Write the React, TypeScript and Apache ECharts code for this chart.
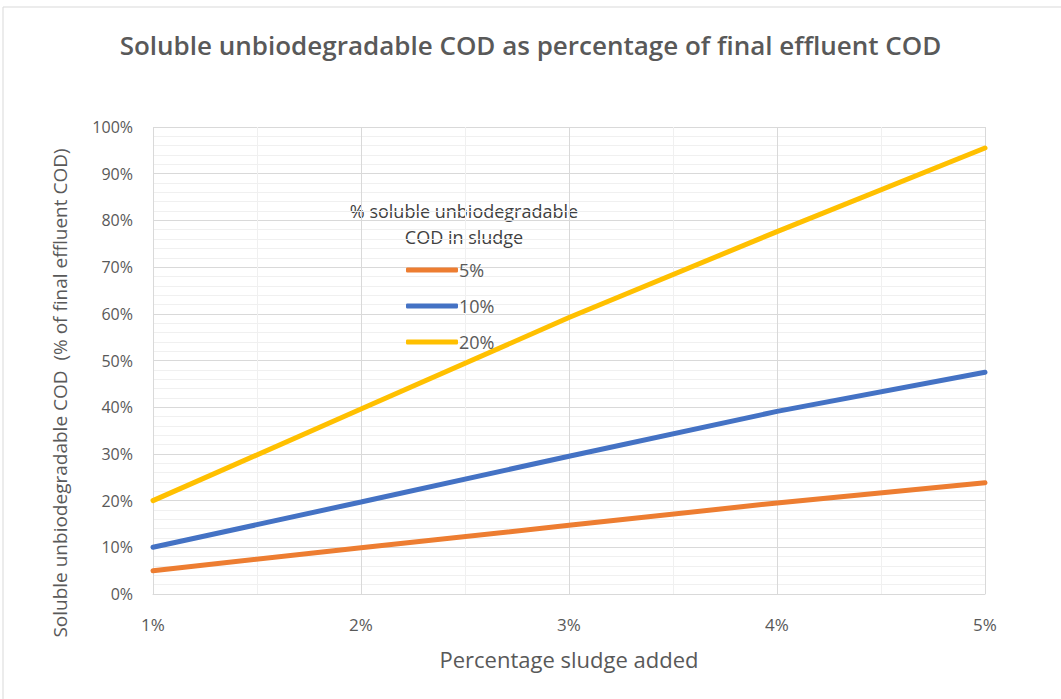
import React, { useEffect, useRef } from "react";
import * as echarts from "echarts";

const sludgeAdded = [1, 2, 3, 4, 5];
const series5 = [5, 9.9, 14.7, 19.5, 23.8];
const series10 = [10, 19.7, 29.5, 39.1, 47.5];
const series20 = [20, 39.6, 59.2, 77.6, 95.5];
const seriesNames = ["5%", "10%", "20%"];
const seriesColors = ["#ED7D31", "#4472C4", "#FFC000"];

const FONT = "'Open Sans', 'Noto Sans', sans-serif";
const GREY = "#595959";

export default function App() {
  const ref = useRef<HTMLDivElement>(null);
  useEffect(() => {
    if (!ref.current) return;
    const chart = echarts.init(ref.current, null, { renderer: "svg" });
    const data = [series5, series10, series20];
    chart.setOption({
      animation: false,
      backgroundColor: "#ffffff",
      title: {
        text: "Soluble unbiodegradable COD as percentage of final effluent COD",
        left: "center",
        top: 27,
        textStyle: { fontFamily: FONT, fontSize: 26, fontWeight: 600, color: GREY },
      },
      grid: { left: 153, right: 76, top: 127, bottom: 105 },
      xAxis: {
        type: "value",
        min: 1,
        max: 5,
        interval: 1,
        name: "Percentage sludge added",
        nameLocation: "middle",
        nameGap: 54,
        nameTextStyle: { fontFamily: FONT, fontSize: 22, color: GREY },
        axisLine: { show: true, lineStyle: { color: "#D9D9D9" } },
        axisTick: { show: false },
        axisLabel: {
          margin: 22,
          fontFamily: FONT,
          fontSize: 17,
          color: GREY,
          formatter: (v: number) => v + "%",
        },
        splitLine: { show: true, lineStyle: { color: "#D9D9D9" } },
        minorTick: { show: false, splitNumber: 2 },
        minorSplitLine: { show: true, lineStyle: { color: "#F0F0F0" } },
      },
      yAxis: {
        type: "value",
        min: 0,
        max: 100,
        interval: 10,
        axisLine: { show: false },
        axisTick: { show: false },
        axisLabel: {
          margin: 20,
          fontFamily: FONT,
          fontSize: 16,
          color: GREY,
          formatter: (v: number) => v + "%",
        },
        splitLine: { show: true, lineStyle: { color: "#D9D9D9" } },
        minorTick: { show: false, splitNumber: 5 },
        minorSplitLine: { show: true, lineStyle: { color: "#F0F0F0" } },
      },
      legend: {
        orient: "vertical",
        left: 401,
        top: 256,
        itemWidth: 52,
        itemHeight: 5,
        itemGap: 18,
        icon: "roundRect",
        textStyle: { fontFamily: FONT, fontSize: 18, color: GREY, padding: [0, 0, 0, -4] },
        data: seriesNames,
      },
      graphic: [
        {
          type: "rect",
          shape: { x: 3, y: 7, width: 1200, height: 800 },
          style: { fill: "none", stroke: "#D9D9D9", lineWidth: 1 },
          silent: true,
        },
        {
          type: "text",
          x: 464,
          y: 211,
          style: {
            text: "% soluble unbiodegradable",
            font: `18px ${FONT}`,
            fill: "#404040",
            align: "center",
            verticalAlign: "middle",
          },
        },
        {
          type: "text",
          x: 464,
          y: 237,
          style: {
            text: "COD in sludge",
            font: `18px ${FONT}`,
            fill: "#404040",
            align: "center",
            verticalAlign: "middle",
          },
        },
        {
          type: "text",
          x: 60,
          y: 393,
          rotation: Math.PI / 2,
          style: {
            text: "Soluble unbiodegradable COD  (% of final effluent COD)",
            font: `19px ${FONT}`,
            fill: GREY,
            align: "center",
            verticalAlign: "middle",
          },
        },
      ],
      series: seriesNames.map((name, i) => ({
        name,
        type: "line",
        data: sludgeAdded.map((x, j) => [x, data[i][j]]),
        showSymbol: false,
        symbol: "none",
        color: seriesColors[i],
        lineStyle: { width: 5, color: seriesColors[i], cap: "round" },
      })),
    });
    return () => chart.dispose();
  }, []);
  return (
    <div
      ref={ref}
      style={{ position: "fixed", left: 0, top: 0, width: 1061, height: 699 }}
    />
  );
}
